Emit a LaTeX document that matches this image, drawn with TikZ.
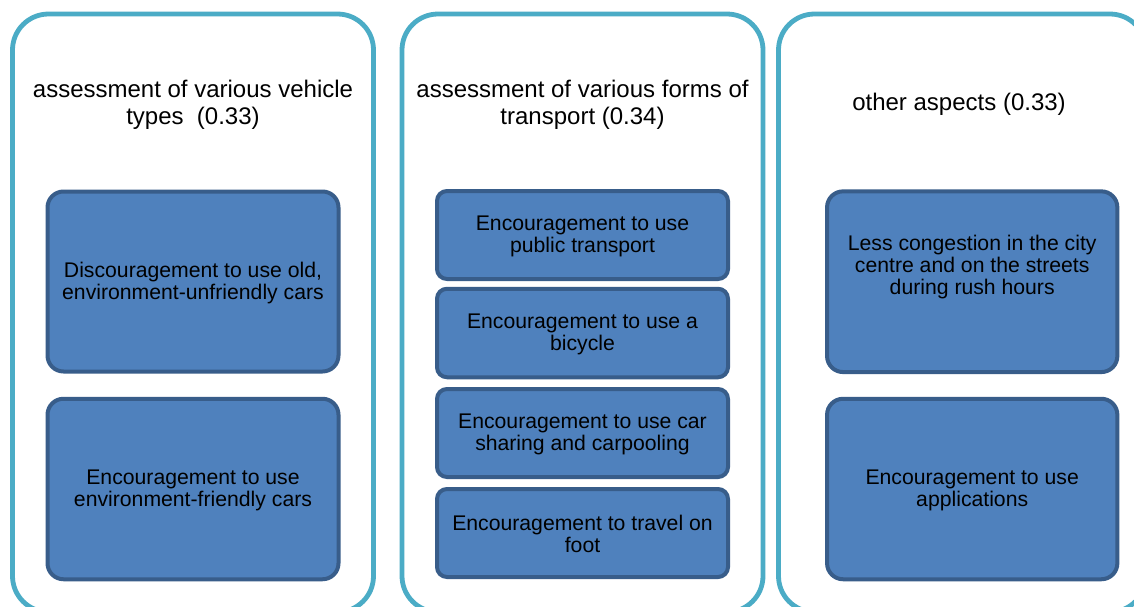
\documentclass[tikz,border=0pt]{standalone}
\usepackage{fontspec}
\setmainfont{Liberation Sans}[Ligatures=CommonOff]
\definecolor{outerc}{HTML}{4BACC6}
\definecolor{innerf}{HTML}{4F81BD}
\definecolor{innerd}{HTML}{385D8A}
\begin{document}
\begin{tikzpicture}[x=1pt,y=-1pt,
  outerbox/.style={draw=outerc,line width=4.8pt,rounded corners=36pt,inner sep=0pt},
  innerbox/.style={draw=innerd,fill=innerf,line width=4pt,rounded corners=#1,inner sep=0pt,minimum width=291pt},
  innerbox/.default=16pt,
  innertext/.style={align=center,inner sep=0pt,font=\fontsize{21.2}{22}\selectfont},
  titletext/.style={align=center,inner sep=0pt,font=\fontsize{24}{26.5}\selectfont}]
\useasboundingbox (0,0) rectangle (1134,606);
\fill[white] (0,0) rectangle (1134,606);
\begin{scope}
\clip (0,0) rectangle (1134,606);
% group containers
\node[outerbox,minimum width=361pt,minimum height=598pt] (g1) at (193,313) {};
\node[outerbox,minimum width=361pt,minimum height=598pt] (g2) at (582.5,313) {};
\node[outerbox,minimum width=367.5pt,minimum height=598pt] (g3) at (962.25,313) {};
\end{scope}
% titles
\node[titletext] (t1) at (193,105) {assessment of various vehicle\\types~ (0.33)};
\node[titletext] (t2) at (582.5,105) {assessment of various forms of\\transport (0.34)};
\node[titletext] (t3) at (959,104) {other aspects (0.33)};
% column 1
\node[innerbox,minimum height=180pt] (a1) at (193,281.5) {};
\node[innertext] (a1t) at (193,283) {Discouragement to use old,\\environment-unfriendly cars};
\node[innerbox,minimum height=180.5pt] (a2) at (193,489) {};
\node[innertext] (a2t) at (193,490.5) {Encouragement to use\\environment-friendly cars};
% column 2
\node[innerbox=10pt,minimum height=88pt] (b1) at (582.5,235) {};
\node[innertext] (b1t) at (582.5,236.5) {Encouragement to use\\public transport};
\node[innerbox=10pt,minimum height=88.5pt] (b2) at (582.5,333) {};
\node[innertext] (b2t) at (582.5,334.5) {Encouragement to use a\\bicycle};
\node[innerbox=10pt,minimum height=88pt] (b3) at (582.5,433) {};
\node[innertext] (b3t) at (582.5,434.5) {Encouragement to use car\\sharing and carpooling};
\node[innerbox=10pt,minimum height=88pt] (b4) at (582.5,533) {};
\node[innertext] (b4t) at (582.5,533.5) {Encouragement to travel on\\foot};
% column 3
\node[innerbox,minimum width=290.3pt,minimum height=180.7pt] (c1) at (972.2,281.7) {};
\node[innertext] (c1t) at (972.2,267.5) {Less congestion in the city\\centre and on the streets\\during rush hours};
\node[innerbox,minimum width=290.3pt,minimum height=180.5pt] (c2) at (972.2,489) {};
\node[innertext] (c2t) at (972.2,490.5) {Encouragement to use\\applications};
\end{tikzpicture}
\end{document}
